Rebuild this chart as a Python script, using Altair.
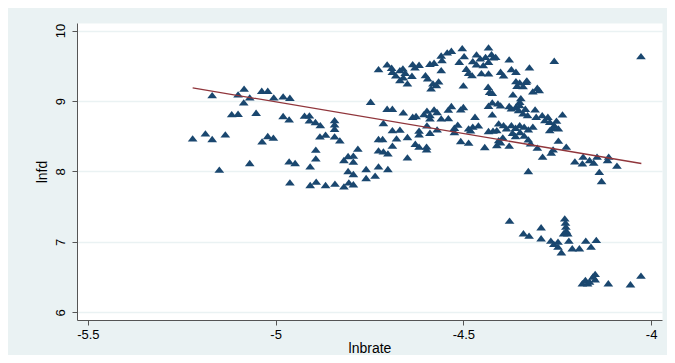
import altair as alt
import pandas as pd

# Scatter points (lnbrate, lnfd)
lnbrate = [
    -5.221, -5.187, -5.169, -5.169, -5.150, -5.134, -5.117, -5.100, -5.100, -5.084,
    -5.085, -5.069, -5.069, -5.052, -5.037, -5.021, -5.036, -5.021, -5.006, -5.005,
    -4.980, -4.962, -4.980, -4.964, -4.964, -4.948, -4.962, -4.923, -4.910, -4.910,
    -4.894, -4.881, -4.893, -4.893, -4.908, -4.908, -4.892, -4.867, -4.882, -4.867,
    -4.843, -4.843, -4.843, -4.843, -4.829, -4.842, -4.818, -4.818, -4.807, -4.793,
    -4.793, -4.807, -4.793, -4.805, -4.793, -4.781, -4.759, -4.759, -4.747, -4.735,
    -4.726, -4.726, -4.726, -4.715, -4.713, -4.713, -4.701, -4.701, -4.703, -4.689,
    -4.689, -4.689, -4.678, -4.660, -4.669, -4.649, -4.649, -4.635, -4.628, -4.618,
    -4.618, -4.618, -4.626, -4.598, -4.598,
    # middle band
    -4.605, -4.597, -4.589, -4.589, -4.597, -4.589, -4.578, -4.570, -4.570, -4.559,
    -4.540, -4.540, -4.532, -4.524, -4.524, -4.515, -4.507, -4.500, -4.507, -4.486,
    -4.486, -4.481, -4.475, -4.469, -4.460, -4.443, -4.433, -4.423, -4.433, -4.423,
    -4.408, -4.421,
    # upper cluster
    -4.726, -4.703, -4.691, -4.689, -4.680, -4.669, -4.661, -4.669, -4.660, -4.649,
    -4.655, -4.637, -4.635, -4.629, -4.618, -4.601, -4.595, -4.589, -4.578, -4.586,
    -4.581, -4.572, -4.566, -4.559, -4.557, -4.559, -4.543, -4.532, -4.503, -4.511,
    -4.500, -4.498, -4.492, -4.486, -4.477, -4.475, -4.465, -4.465, -4.455, -4.452,
    -4.447, -4.441, -4.433, -4.433, -4.425, -4.420, -4.433, -4.434, -4.430, -4.423,
    -4.414, -4.401, -4.393, -4.378, -4.372, -4.360, -4.360, -4.368, -4.357, -4.350,
    -4.341, -4.333, -4.324, -4.331, -4.315, -4.303, -4.298, -4.258, -4.027, -4.347,
    -4.350,
    # right middle cluster
    -4.401, -4.378, -4.372, -4.360, -4.350, -4.353, -4.341, -4.335, -4.329, -4.309,
    -4.306, -4.290, -4.283, -4.275, -4.270, -4.258, -4.252, -4.236, -4.247, -4.261,
    -4.270, -4.406, -4.411, -4.393, -4.385, -4.372, -4.361, -4.350, -4.338, -4.327,
    -4.315, -4.369, -4.361, -4.349, -4.338, -4.327, -4.321, -4.303, -4.289, -4.327,
    -4.406, -4.411, -4.378, -4.395, -4.401, -4.266, -4.261, -4.247, -4.226,
    # right lower cluster
    -4.203, -4.183, -4.181, -4.164, -4.153, -4.144, -4.138, -4.132, -4.116, -4.113,
    -4.091,
    # cluster near 7
    -4.377, -4.340, -4.325, -4.293, -4.293, -4.267, -4.259, -4.248, -4.239, -4.248,
    -4.230, -4.228, -4.227, -4.226, -4.222, -4.233, -4.219, -4.210, -4.191, -4.174,
    -4.160, -4.146,
    # cluster near 6.4
    -4.183, -4.175, -4.169, -4.164, -4.149, -4.149, -4.114, -4.055, -4.027, -4.155,
]
lnfd = [
    8.468, 8.539, 9.083, 8.459, 8.024, 8.525, 8.813, 8.818, 9.092, 9.173,
    8.979, 9.050, 8.118, 8.832, 9.144, 9.144, 8.426, 8.501, 8.478, 9.050,
    9.064, 9.045, 8.785, 8.738, 8.142, 8.118, 7.844, 8.790, 8.794, 8.723,
    8.700, 8.657, 8.307, 8.184, 8.071, 7.806, 7.853, 7.806, 8.496, 8.520,
    8.728, 8.667, 8.605, 8.496, 8.440, 7.825, 7.787, 8.161, 8.217, 8.222,
    8.137, 8.005, 7.962, 7.844, 7.816, 8.322, 8.033, 7.905, 8.988, 7.939,
    8.459, 8.298, 8.071, 8.459, 8.686, 8.284, 8.255, 8.033, 8.889, 8.889,
    8.586, 8.364, 8.468, 8.837, 8.591, 8.487, 8.199, 8.775, 8.392, 8.577,
    8.525, 8.350, 8.785, 8.312, 8.350,
    # middle band
    8.813, 8.861, 8.799, 8.752, 8.652, 8.548, 8.879, 8.842, 8.596, 8.752,
    8.875, 8.756, 8.927, 8.619, 8.558, 8.662, 8.879, 8.913, 8.430, 8.407,
    8.610, 8.582, 8.634, 8.775, 8.652, 8.345, 8.572, 8.809, 8.931, 8.979,
    8.965, 8.577,
    # upper cluster
    9.452, 9.518, 9.470, 9.414, 9.362, 9.437, 9.461, 9.296, 9.333, 9.248,
    9.400, 9.357, 9.522, 9.475, 9.513, 9.366, 9.319, 9.527, 9.541, 9.177,
    9.248, 9.225, 9.277, 9.437, 9.579, 9.645, 9.688, 9.712, 9.749, 9.556,
    9.220, 9.636, 9.456, 9.400, 9.366, 9.565, 9.518, 9.660, 9.603, 9.395,
    9.508, 9.626, 9.759, 9.556, 9.664, 9.617, 9.390, 9.201, 9.130, 9.116,
    9.626, 9.414, 9.362, 9.589, 9.452, 9.414, 9.281, 9.092, 9.215, 9.262,
    9.210, 9.272, 9.475, 9.291, 9.135, 9.187, 9.154, 9.570, 9.636, 9.040,
    8.988,
    # right middle cluster
    8.936, 8.927, 8.894, 8.917, 8.941, 8.870, 8.823, 8.889, 8.799, 8.879,
    8.775, 8.799, 8.728, 8.775, 8.704, 8.657, 8.719, 8.809, 8.610, 8.619,
    8.586, 8.681, 8.586, 8.657, 8.610, 8.657, 8.619, 8.657, 8.634, 8.596,
    8.634, 8.548, 8.501, 8.558, 8.506, 8.454, 8.397, 8.336, 8.208, 8.005,
    8.444, 8.374, 8.364, 8.482, 8.411, 8.265, 8.312, 8.435, 8.350,
    # right lower cluster
    8.142, 8.113, 8.208, 8.161, 8.123, 8.208, 7.991, 7.863, 8.161, 8.208,
    8.080,
    # cluster near 7
    7.300, 7.121, 7.088, 7.206, 7.050, 7.017, 6.969, 6.931, 6.851, 7.002,
    7.333, 7.272, 7.215, 7.158, 7.121, 7.121, 7.017, 6.908, 6.908, 7.017,
    6.931, 7.026,
    # cluster near 6.4
    6.411, 6.459, 6.411, 6.435, 6.544, 6.468, 6.411, 6.397, 6.520, 6.506,
]

# Fitted line end points
fit_lnbrate = [-5.221, -4.026]
fit_lnfd = [9.187, 8.113]

x_ticks = [-5.5, -5.0, -4.5, -4.0]
y_ticks = [6, 7, 8, 9, 10]

pts = pd.DataFrame({"lnbrate": lnbrate, "lnfd": lnfd})
fit = pd.DataFrame({"lnbrate": fit_lnbrate, "lnfd": fit_lnfd})

FONT = "Liberation Sans"
xscale = alt.Scale(domain=[-5.529, -3.971], nice=False, zero=False)
yscale = alt.Scale(domain=[5.891, 10.108], nice=False, zero=False)

xaxis = alt.Axis(
    values=x_ticks, labelExpr="'' + datum.value", title="lnbrate",
    grid=False, tickSize=5, labelPadding=3, titlePadding=0,
    domainColor="#555555", tickColor="#555555", labelColor="#000000",
    labelFont=FONT, labelFontSize=13, titleFont=FONT, titleFontSize=14,
    titleFontWeight="normal", titleColor="#000000",
)
yaxis = alt.Axis(
    values=y_ticks, labelExpr="'' + datum.value", title="lnfd",
    grid=True, gridColor="#EAF2F3", gridWidth=1.5,
    tickSize=5, labelPadding=8, titlePadding=5,
    labelAngle=270, labelAlign="center", labelBaseline="alphabetic",
    domainColor="#555555", tickColor="#555555", labelColor="#000000",
    labelFont=FONT, labelFontSize=13, titleFont=FONT, titleFontSize=14,
    titleFontWeight="normal", titleColor="#000000",
)

tri = "M0,-0.68L1,0.62L-1,0.62Z"

points = alt.Chart(pts).mark_point(
    shape=tri, filled=True, color="#1A476F", opacity=1, size=95, strokeWidth=0
).encode(
    x=alt.X("lnbrate:Q", scale=xscale, axis=xaxis),
    y=alt.Y("lnfd:Q", scale=yscale, axis=yaxis),
)

line = alt.Chart(fit).mark_line(color="#90353B", strokeWidth=1.3).encode(
    x=alt.X("lnbrate:Q", scale=xscale),
    y=alt.Y("lnfd:Q", scale=yscale),
)

chart = alt.layer(points, line).properties(
    width=585, height=297,
    padding={"left": 69, "top": 15, "right": 5, "bottom": 35},
    autosize=alt.AutoSizeParams(type="none"),
    background="#EAF2F3",
).configure_view(fill="white", stroke="transparent")

chart.save("out.html", embed_options={"renderer": "svg", "actions": False})
